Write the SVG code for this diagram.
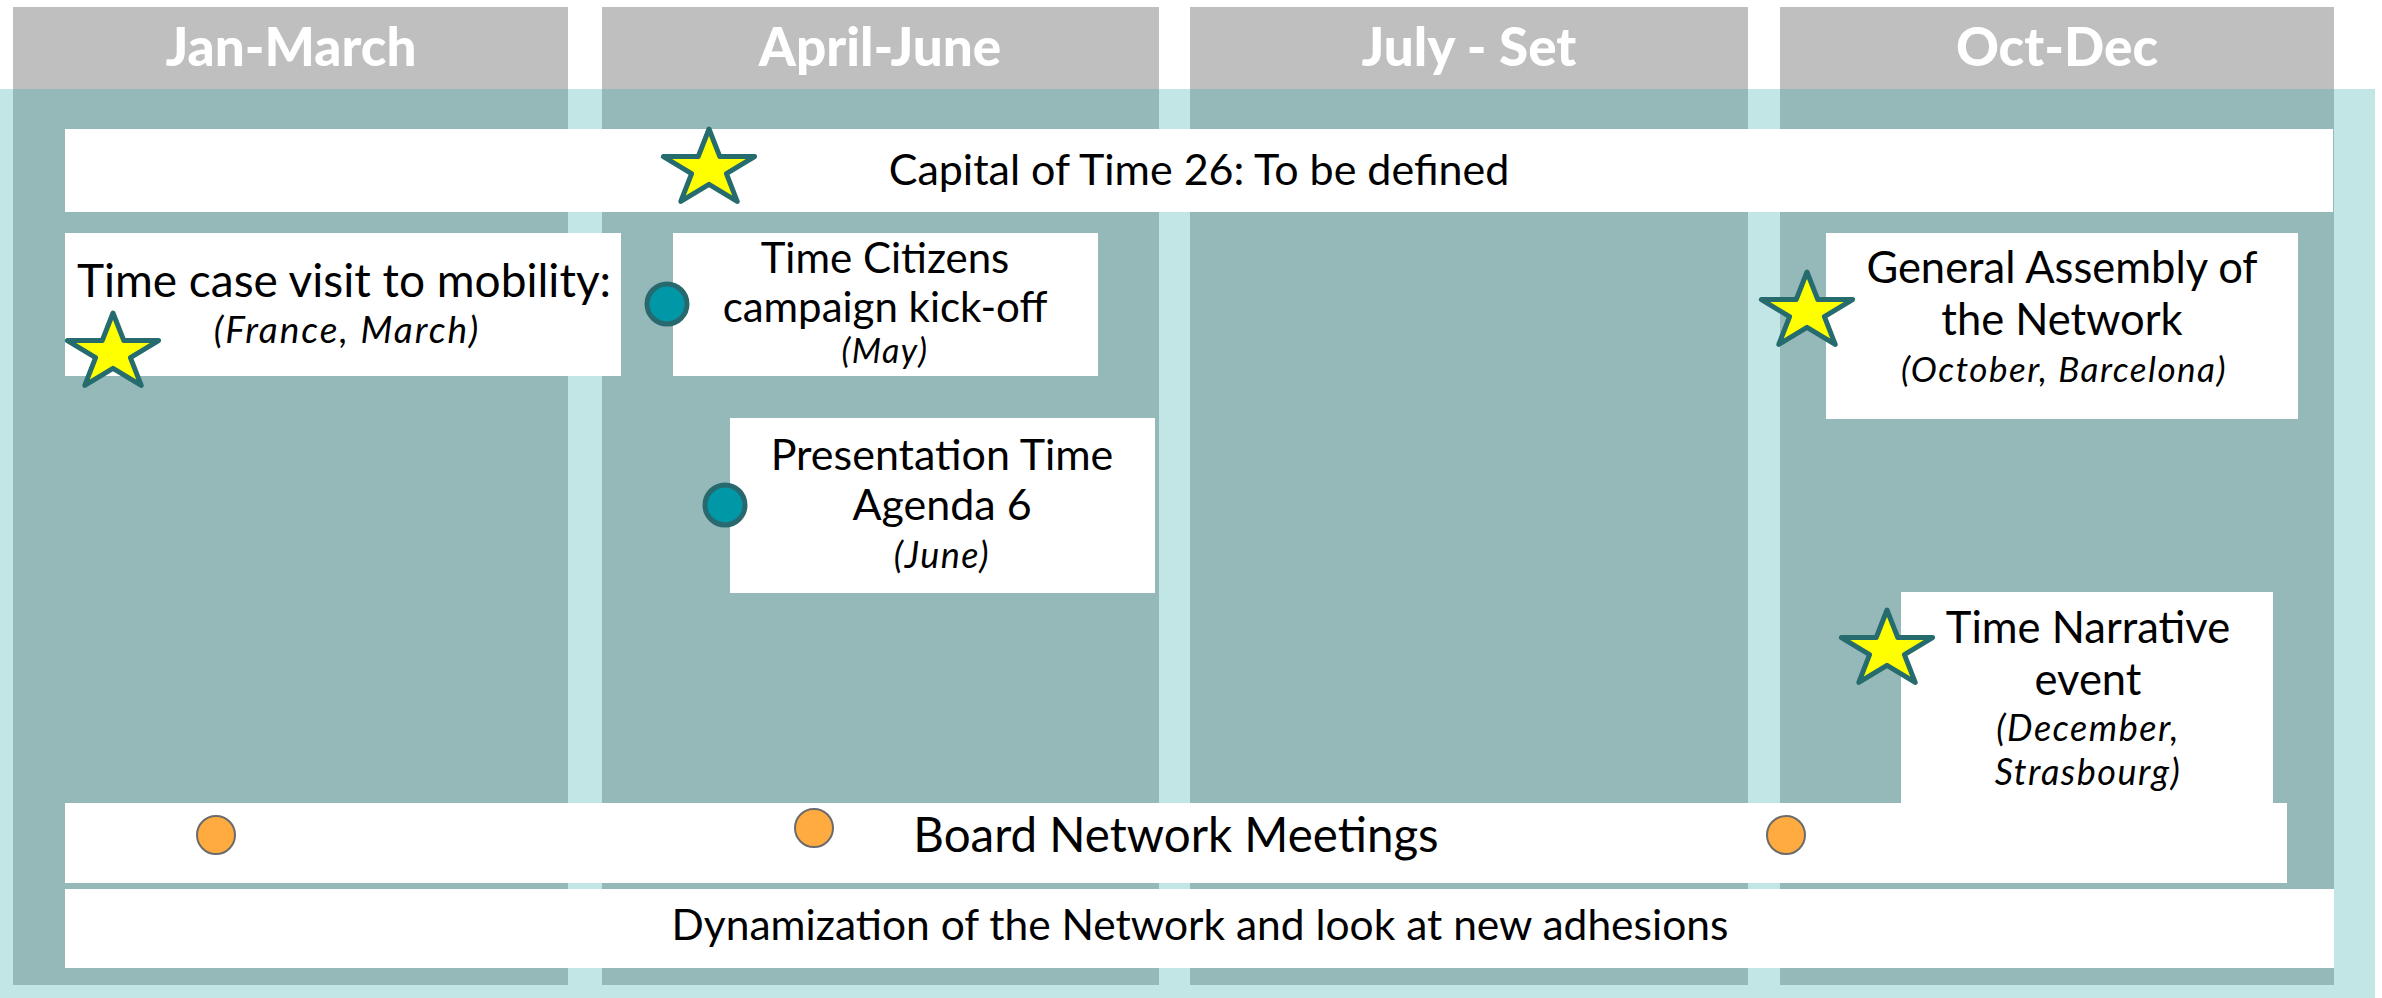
<svg xmlns="http://www.w3.org/2000/svg" width="2382" height="998" viewBox="0 0 2382 998">
<style>
.bg{fill:#C2E6E6}
.col{fill:#95B8B8}
.hdr{fill:#BFBFBF}
.box{fill:#FFFFFF}
.ht{font-family:Lato,"Liberation Sans",sans-serif;font-weight:900;font-size:53px;fill:#FFFFFF;text-anchor:middle}
.t{font-family:Lato,"Liberation Sans",sans-serif;font-size:43px;fill:#000000;text-anchor:middle}
.i{font-family:Lato,"Liberation Sans",sans-serif;font-style:italic;font-size:36px;letter-spacing:1.5px;fill:#000000;text-anchor:middle}
.star{fill:#FFFF00;stroke:#266B6E;stroke-width:5;stroke-linejoin:round}
.tdot{fill:#0097A7;stroke:#27696E;stroke-width:5}
.odot{fill:#FFAB40;stroke:#6B6B6B;stroke-width:2}
</style>
<defs>
<path id="star" d="M0,-40 L10.8,-12.4 L45.6,-12.4 L17.4,4.7 L28.2,32.4 L0,15.3 L-28.2,32.4 L-17.4,4.7 L-45.6,-12.4 L-10.8,-12.4 Z"/>
</defs>
<g id="background">
<rect class="bg" x="0" y="89" width="2375" height="909"/>
<rect class="col" x="13" y="89" width="555" height="896"/>
<rect class="col" x="602" y="89" width="557" height="896"/>
<rect class="col" x="1190" y="89" width="558" height="896"/>
<rect class="col" x="1780" y="89" width="554" height="896"/>
</g>
<g id="headers">
<rect class="hdr" x="13" y="7" width="555" height="82"/>
<rect class="hdr" x="602" y="7" width="557" height="82"/>
<rect class="hdr" x="1190" y="7" width="558" height="82"/>
<rect class="hdr" x="1780" y="7" width="554" height="82"/>
<text class="ht" x="291" y="66">Jan-March</text>
<text class="ht" x="880" y="66">April-June</text>
<text class="ht" x="1469" y="66">July - Set</text>
<text class="ht" x="2057" y="66">Oct-Dec</text>
</g>
<g id="capital">
<rect class="box" x="65" y="129" width="2268" height="83"/>
<text class="t" x="1199" y="185">Capital of Time 26: To be defined</text>
<use href="#star" class="star" x="709" y="169"/>
</g>
<g id="mobility">
<rect class="box" x="65" y="233" width="556" height="143"/>
<text class="t" x="344" y="297" style="font-size:46px">Time case visit to mobility:</text>
<text class="i" x="347" y="343" style="font-size:37px;letter-spacing:2px">(France, March)</text>
<use href="#star" class="star" x="113" y="353"/>
</g>
<g id="citizens">
<rect class="box" x="673" y="233" width="425" height="143"/>
<text class="t" x="885" y="273" style="font-size:42px">Time Citizens</text>
<text class="t" x="885" y="322" style="font-size:42px">campaign kick-off</text>
<text class="i" x="885" y="363" style="font-size:34px">(May)</text>
<circle class="tdot" cx="667" cy="304" r="20"/>
</g>
<g id="agenda">
<rect class="box" x="730" y="418" width="425" height="175"/>
<text class="t" x="942" y="470">Presentation Time</text>
<text class="t" x="942" y="520">Agenda 6</text>
<text class="i" x="942" y="568">(June)</text>
<circle class="tdot" cx="725" cy="505" r="20"/>
</g>
<g id="assembly">
<rect class="box" x="1826" y="233" width="472" height="186"/>
<text class="t" x="2062" y="283" style="font-size:43.5px">General Assembly of</text>
<text class="t" x="2062" y="335" style="font-size:43.5px">the Network</text>
<text class="i" x="2064" y="382" style="font-size:35px">(October, Barcelona)</text>
<use href="#star" class="star" x="1807" y="312"/>
</g>
<g id="narrative">
<rect class="box" x="1901" y="592" width="372" height="215"/>
<text class="t" x="2088" y="643" style="font-size:43.5px">Time Narrative</text>
<text class="t" x="2088" y="695" style="font-size:43.5px">event</text>
<text class="i" x="2088" y="741">(December,</text>
<text class="i" x="2088" y="785">Strasbourg)</text>
<use href="#star" class="star" x="1887" y="650"/>
</g>
<g id="board">
<rect class="box" x="65" y="803" width="2222" height="80"/>
<text class="t" x="1176" y="852" style="font-size:47.5px">Board Network Meetings</text>
<circle class="odot" cx="216" cy="835" r="19"/>
<circle class="odot" cx="814" cy="828" r="19"/>
<circle class="odot" cx="1786" cy="835" r="19"/>
</g>
<g id="dynamization">
<rect class="box" x="65" y="889" width="2269" height="79"/>
<text class="t" x="1200" y="940" style="font-size:42.5px">Dynamization of the Network and look at new adhesions</text>
</g>
<g id="connectors"></g>
</svg>
